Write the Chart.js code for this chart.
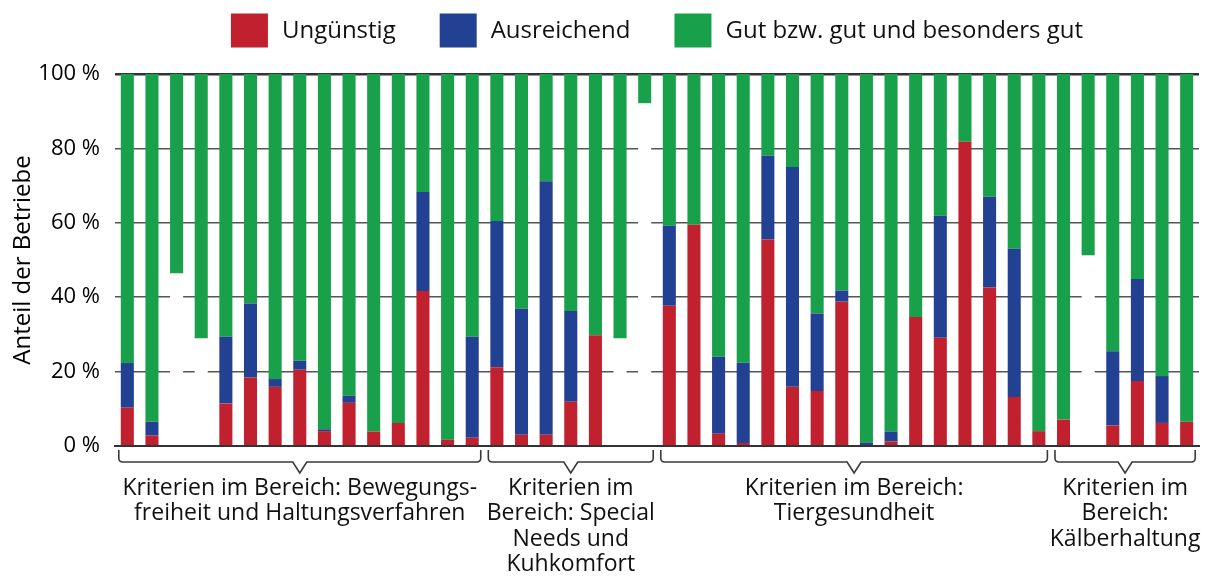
<!DOCTYPE html>
<html>
<head>
<meta charset="utf-8">
<script src="https://cdn.jsdelivr.net/npm/chart.js@4.4.1/dist/chart.umd.min.js"></script>
<style>
  html, body { margin: 0; padding: 0; background: #fff; }
  #wrap { width: 1206px; height: 576px; position: relative; }
</style>
</head>
<body>
<div id="wrap"><canvas id="c" width="1206" height="576"></canvas></div>
<script>
// ---- Data ----
const categories = ['1','2','3','4','5','6','7','8','9','10','11','12','13','14','15','16','17','18','19','20','21','22',
  '23','24','25','26','27','28','29','30','31','32','33','34','35','36','37','38','39','40','41','42','43','44'];

const seriesLabels = ['Ungünstig', 'Ausreichend', 'Gut bzw. gut und besonders gut'];

// not assessed / no data (drawn as white, not in legend)
const keineAngabe = [0, 0, 46.4, 28.9, 0, 0, 0, 0, 0, 0, 0, 0, 0, 0, 0,
  0, 0, 0, 0, 0, 28.9, 92.1,
  0, 0, 0, 0, 0, 0, 0, 0, 0, 0, 0, 0, 0, 0, 0, 0,
  0, 51.2, 0, 0, 0, 0];

const unguenstig = [10.3, 2.8, 0, 0, 11.4, 18.4, 15.9, 20.5, 4.0, 11.6, 3.9, 6.2, 41.7, 1.7, 2.2,
  21.2, 3.0, 3.0, 11.9, 29.8, 0, 0,
  37.7, 59.5, 3.3, 0.8, 55.5, 15.9, 14.8, 38.8, 0, 1.2, 34.7, 29.1, 81.8, 42.6, 13.2, 4.0,
  7.1, 0, 5.5, 17.5, 6.2, 6.5];

const ausreichend = [12.0, 3.7, 0, 0, 18.0, 19.9, 2.1, 2.4, 0.5, 1.9, 0, 0, 26.6, 0, 27.2,
  39.3, 33.9, 68.2, 24.4, 0, 0, 0,
  21.5, 0, 20.7, 21.6, 22.5, 59.1, 20.8, 3.0, 0.9, 2.7, 0, 32.8, 0, 24.4, 39.8, 0,
  0, 0, 20.0, 27.4, 12.6, 0];

const gut = [77.7, 93.5, 53.6, 71.1, 70.6, 61.7, 82.0, 77.1, 95.5, 86.5, 96.1, 93.8, 31.7, 98.3, 70.6,
  39.5, 63.1, 28.8, 63.7, 70.2, 71.1, 7.9,
  40.8, 40.5, 76.0, 77.6, 22.0, 25.0, 64.4, 58.2, 99.1, 96.1, 65.3, 38.1, 18.2, 33.0, 47.0, 96.0,
  92.9, 48.8, 74.5, 55.1, 81.2, 93.5];

const yTicks = [0, 20, 40, 60, 80, 100];
const yTitle = 'Anteil der Betriebe';

// groups: first index, last index, label lines
const groupStart = [0, 15, 22, 38];
const groupEnd = [14, 21, 37, 43];
const groupLabels = [
  ['Kriterien im Bereich: Bewegungs-', 'freiheit und Haltungsverfahren'],
  ['Kriterien im', 'Bereich: Special', 'Needs und', 'Kuhkomfort'],
  ['Kriterien im Bereich:', 'Tiergesundheit'],
  ['Kriterien im', 'Bereich:', 'Kälberhaltung']
];

const colors = ['#C1202F', '#224192', '#18A14A'];
const FONT = '"Open Sans", "Noto Sans", sans-serif';

const decorPlugin = {
  id: 'decor',
  afterDraw(chart) {
    const ctx = chart.ctx;
    const area = chart.chartArea;
    ctx.save();
    // Legend
    ctx.font = '24px ' + FONT;
    ctx.textBaseline = 'middle';
    ctx.textAlign = 'left';
    const boxW = 37, boxH = 34, gapBT = 14, gapItems = 44;
    const widths = seriesLabels.map(t => ctx.measureText(t).width);
    let total = 0;
    widths.forEach((w, i) => { total += boxW + gapBT + w + (i ? gapItems : 0); });
    let cx = (area.left + area.right) / 2 - total / 2;
    seriesLabels.forEach((t, i) => {
      ctx.fillStyle = colors[i];
      ctx.fillRect(cx, 13.5, boxW, boxH);
      ctx.fillStyle = '#111';
      ctx.fillText(t, cx + boxW + gapBT, 31);
      cx += boxW + gapBT + widths[i] + gapItems;
    });

    // Brackets + group labels
    const meta = chart.getDatasetMeta(1);
    ctx.strokeStyle = '#3a3a3a';
    ctx.lineWidth = 1.6;
    const base = area.bottom;
    const yTop = base + 4, yH = base + 16, yTip = base + 27, r = 4;
    for (let g = 0; g < groupStart.length; g++) {
      const a = meta.data[groupStart[g]], b = meta.data[groupEnd[g]];
      const xs = a.x - a.width / 2 - 2;
      const xe = b.x + b.width / 2 + 2;
      const xc = (xs + xe) / 2;
      ctx.beginPath();
      ctx.moveTo(xs, yTop);
      ctx.lineTo(xs, yH - r);
      ctx.quadraticCurveTo(xs, yH, xs + r, yH);
      ctx.lineTo(xc - 7, yH);
      ctx.lineTo(xc, yTip);
      ctx.lineTo(xc + 7, yH);
      ctx.lineTo(xe - r, yH);
      ctx.quadraticCurveTo(xe, yH, xe, yH - r);
      ctx.lineTo(xe, yTop);
      ctx.stroke();

      ctx.fillStyle = '#111';
      ctx.font = '23px ' + FONT;
      ctx.textAlign = 'center';
      ctx.textBaseline = 'middle';
      groupLabels[g].forEach((line, k) => {
        ctx.fillText(line, xc, base + 42 + k * 25.6);
      });
    }
    ctx.restore();
  }
};

new Chart(document.getElementById('c'), {
  type: 'bar',
  data: {
    labels: categories,
    datasets: [
      { label: 'keine Angabe', data: keineAngabe, backgroundColor: '#ffffff' },
      { label: seriesLabels[0], data: unguenstig, backgroundColor: colors[0] },
      { label: seriesLabels[1], data: ausreichend, backgroundColor: colors[1] },
      { label: seriesLabels[2], data: gut, backgroundColor: colors[2] }
    ]
  },
  options: {
    responsive: false,
    animation: false,
    devicePixelRatio: 1,
    layout: { padding: { top: 74, bottom: 130, left: 0, right: 7 } },
    datasets: { bar: { categoryPercentage: 1, barPercentage: 0.53, borderWidth: 0 } },
    plugins: { legend: { display: false }, tooltip: { enabled: false } },
    scales: {
      x: {
        stacked: true,
        ticks: { display: false, padding: 0 },
        grid: { display: false, drawTicks: false, tickLength: 0 },
        border: { display: true, color: '#333', width: 2, z: 1 }
      },
      y: {
        stacked: true,
        min: 0, max: 100,
        afterFit(scale) { scale.width = 115; },
        afterBuildTicks(scale) { scale.ticks = yTicks.map(v => ({ value: v })); },
        ticks: {
          padding: 15,
          color: '#000',
          font: { family: FONT, size: 22 },
          callback: v => v + ' %'
        },
        grid: {
          drawTicks: false,
          color: ctx => ctx.tick && ctx.tick.value === 100 ? '#333' : '#555',
          lineWidth: ctx => ctx.tick && ctx.tick.value === 100 ? 2.5 : 1.5
        },
        border: { display: false },
        title: {
          display: true,
          text: yTitle,
          color: '#000',
          font: { family: FONT, size: 24 },
          padding: { top: 9, bottom: 0 }
        }
      }
    }
  },
  plugins: [decorPlugin]
});
</script>
</body>
</html>
